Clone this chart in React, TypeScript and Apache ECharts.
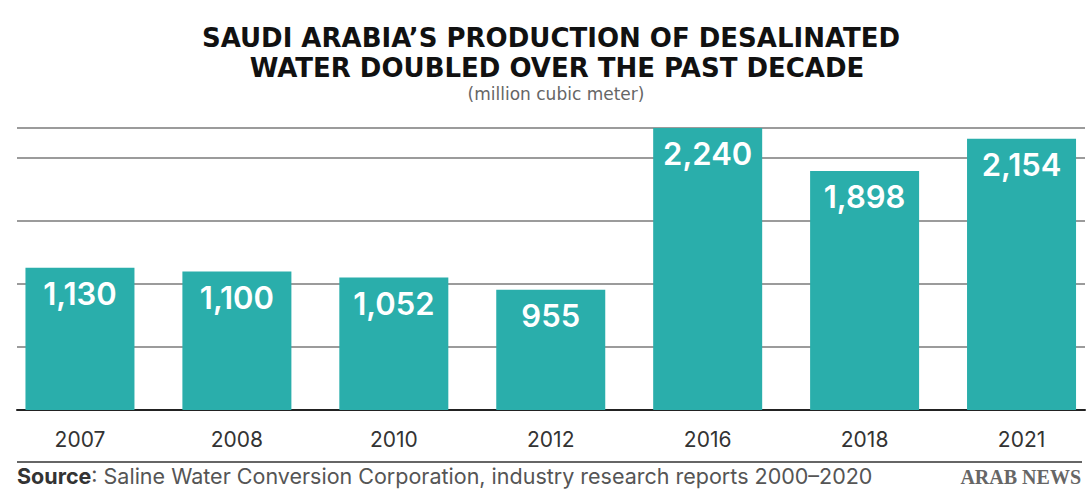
import React, { useEffect, useRef } from "react";
import * as echarts from "echarts";

const categories = ["2007", "2008", "2010", "2012", "2016", "2018", "2021"];
const values = [1130, 1100, 1052, 955, 2240, 1898, 2154];
const gridTicks = [0, 500, 1000, 1500, 2000];
const titleLine1 = "SAUDI ARABIA\u2019S PRODUCTION OF DESALINATED";
const titleLine2 = "WATER DOUBLED OVER THE PAST DECADE";
const subtitleText = "(million cubic meter)";
const sourceLabel = "Source";
const sourceText = ": Saline Water Conversion Corporation, industry research reports 2000\u20132020";
const brandText = "ARAB NEWS";

export default function App() {
  const ref = useRef<HTMLDivElement>(null);
  useEffect(() => {
    if (!ref.current) return;
    const chart = echarts.init(ref.current, null, { renderer: "svg" });
    const yMax = 2240;
    const titleStyle = {
      fontFamily: "DejaVu Sans",
      fontWeight: 700,
      fontSize: 26,
      lineHeight: 26,
      color: "#111",
    };
    chart.setOption({
      animation: false,
      backgroundColor: "#ffffff",
      title: [
        {
          text: titleLine1,
          left: 551,
          top: 25,
          padding: 0,
          textAlign: "center",
          textStyle: titleStyle,
        },
        {
          text: titleLine2,
          left: 557,
          top: 55,
          padding: 0,
          textAlign: "center",
          textStyle: titleStyle,
        },
        {
          text: subtitleText,
          left: 556,
          top: 84.5,
          padding: 0,
          textAlign: "center",
          textStyle: {
            fontFamily: "DejaVu Sans",
            fontWeight: 400,
            fontSize: 17,
            lineHeight: 19,
            color: "#666",
          },
        },
      ],
      grid: [
        { left: 1.5, width: 1098.5, top: 128, height: 282, containLabel: false, outerBoundsMode: "none" },
        { left: 17, width: 1068, top: 128, height: 282, containLabel: false, outerBoundsMode: "none" },
      ],
      xAxis: [
        {
          type: "category",
          gridIndex: 0,
          data: categories,
          axisLine: { show: false },
          axisTick: { show: false },
          axisLabel: {
            margin: 19,
            fontFamily: "Inter",
            fontSize: 21,
            color: "#333",
          },
        },
        {
          type: "value",
          gridIndex: 1,
          min: 0,
          max: 1,
          axisLine: { show: true, lineStyle: { color: "#222", width: 2 } },
          axisTick: { show: false },
          axisLabel: { show: false },
          splitLine: { show: false },
        },
      ],
      yAxis: [
        {
          type: "value",
          gridIndex: 0,
          min: 0,
          max: yMax,
          show: false,
          splitLine: { show: false },
        },
        {
          type: "value",
          gridIndex: 1,
          min: gridTicks[0],
          max: yMax,
          interval: gridTicks[1] - gridTicks[0],
          axisLine: { show: false },
          axisTick: { show: false },
          axisLabel: { show: false },
          splitLine: { show: true, lineStyle: { color: "#7a7a7a", width: 1.5 } },
        },
      ],
      series: [
        {
          type: "bar",
          xAxisIndex: 0,
          yAxisIndex: 0,
          data: values,
          barWidth: 109,
          itemStyle: { color: "#2AAEAB" },
          label: {
            show: true,
            position: "insideTop",
            distance: 10,
            color: "#fff",
            fontFamily: "Inter",
            fontWeight: 600,
            fontSize: 31,
            formatter: (p: any) => Number(p.value).toLocaleString("en-US"),
          },
        },
      ],
      graphic: [
        {
          type: "line",
          shape: { x1: 17, y1: 462, x2: 1082, y2: 462 },
          style: { stroke: "#333", lineWidth: 1.5 },
        },
        {
          type: "text",
          x: 17,
          y: 476,
          style: {
            text: "{b|" + sourceLabel + "}{r|" + sourceText + "}",
            verticalAlign: "middle",
            rich: {
              b: { fontFamily: "Inter", fontWeight: 700, fontSize: 21.5, fill: "#333" },
              r: { fontFamily: "Inter", fontWeight: 400, fontSize: 21.5, fill: "#555" },
            },
          },
        },
        {
          type: "text",
          x: 1081,
          y: 477,
          style: {
            text: brandText,
            align: "right",
            verticalAlign: "middle",
            fontFamily: "Liberation Serif",
            fontWeight: 700,
            fontSize: 20,
            fill: "#666",
          },
        },
      ],
    });
    return () => chart.dispose();
  }, []);
  return (
    <div
      ref={ref}
      style={{ position: "fixed", left: 0, top: 0, width: 1089, height: 495 }}
    />
  );
}
